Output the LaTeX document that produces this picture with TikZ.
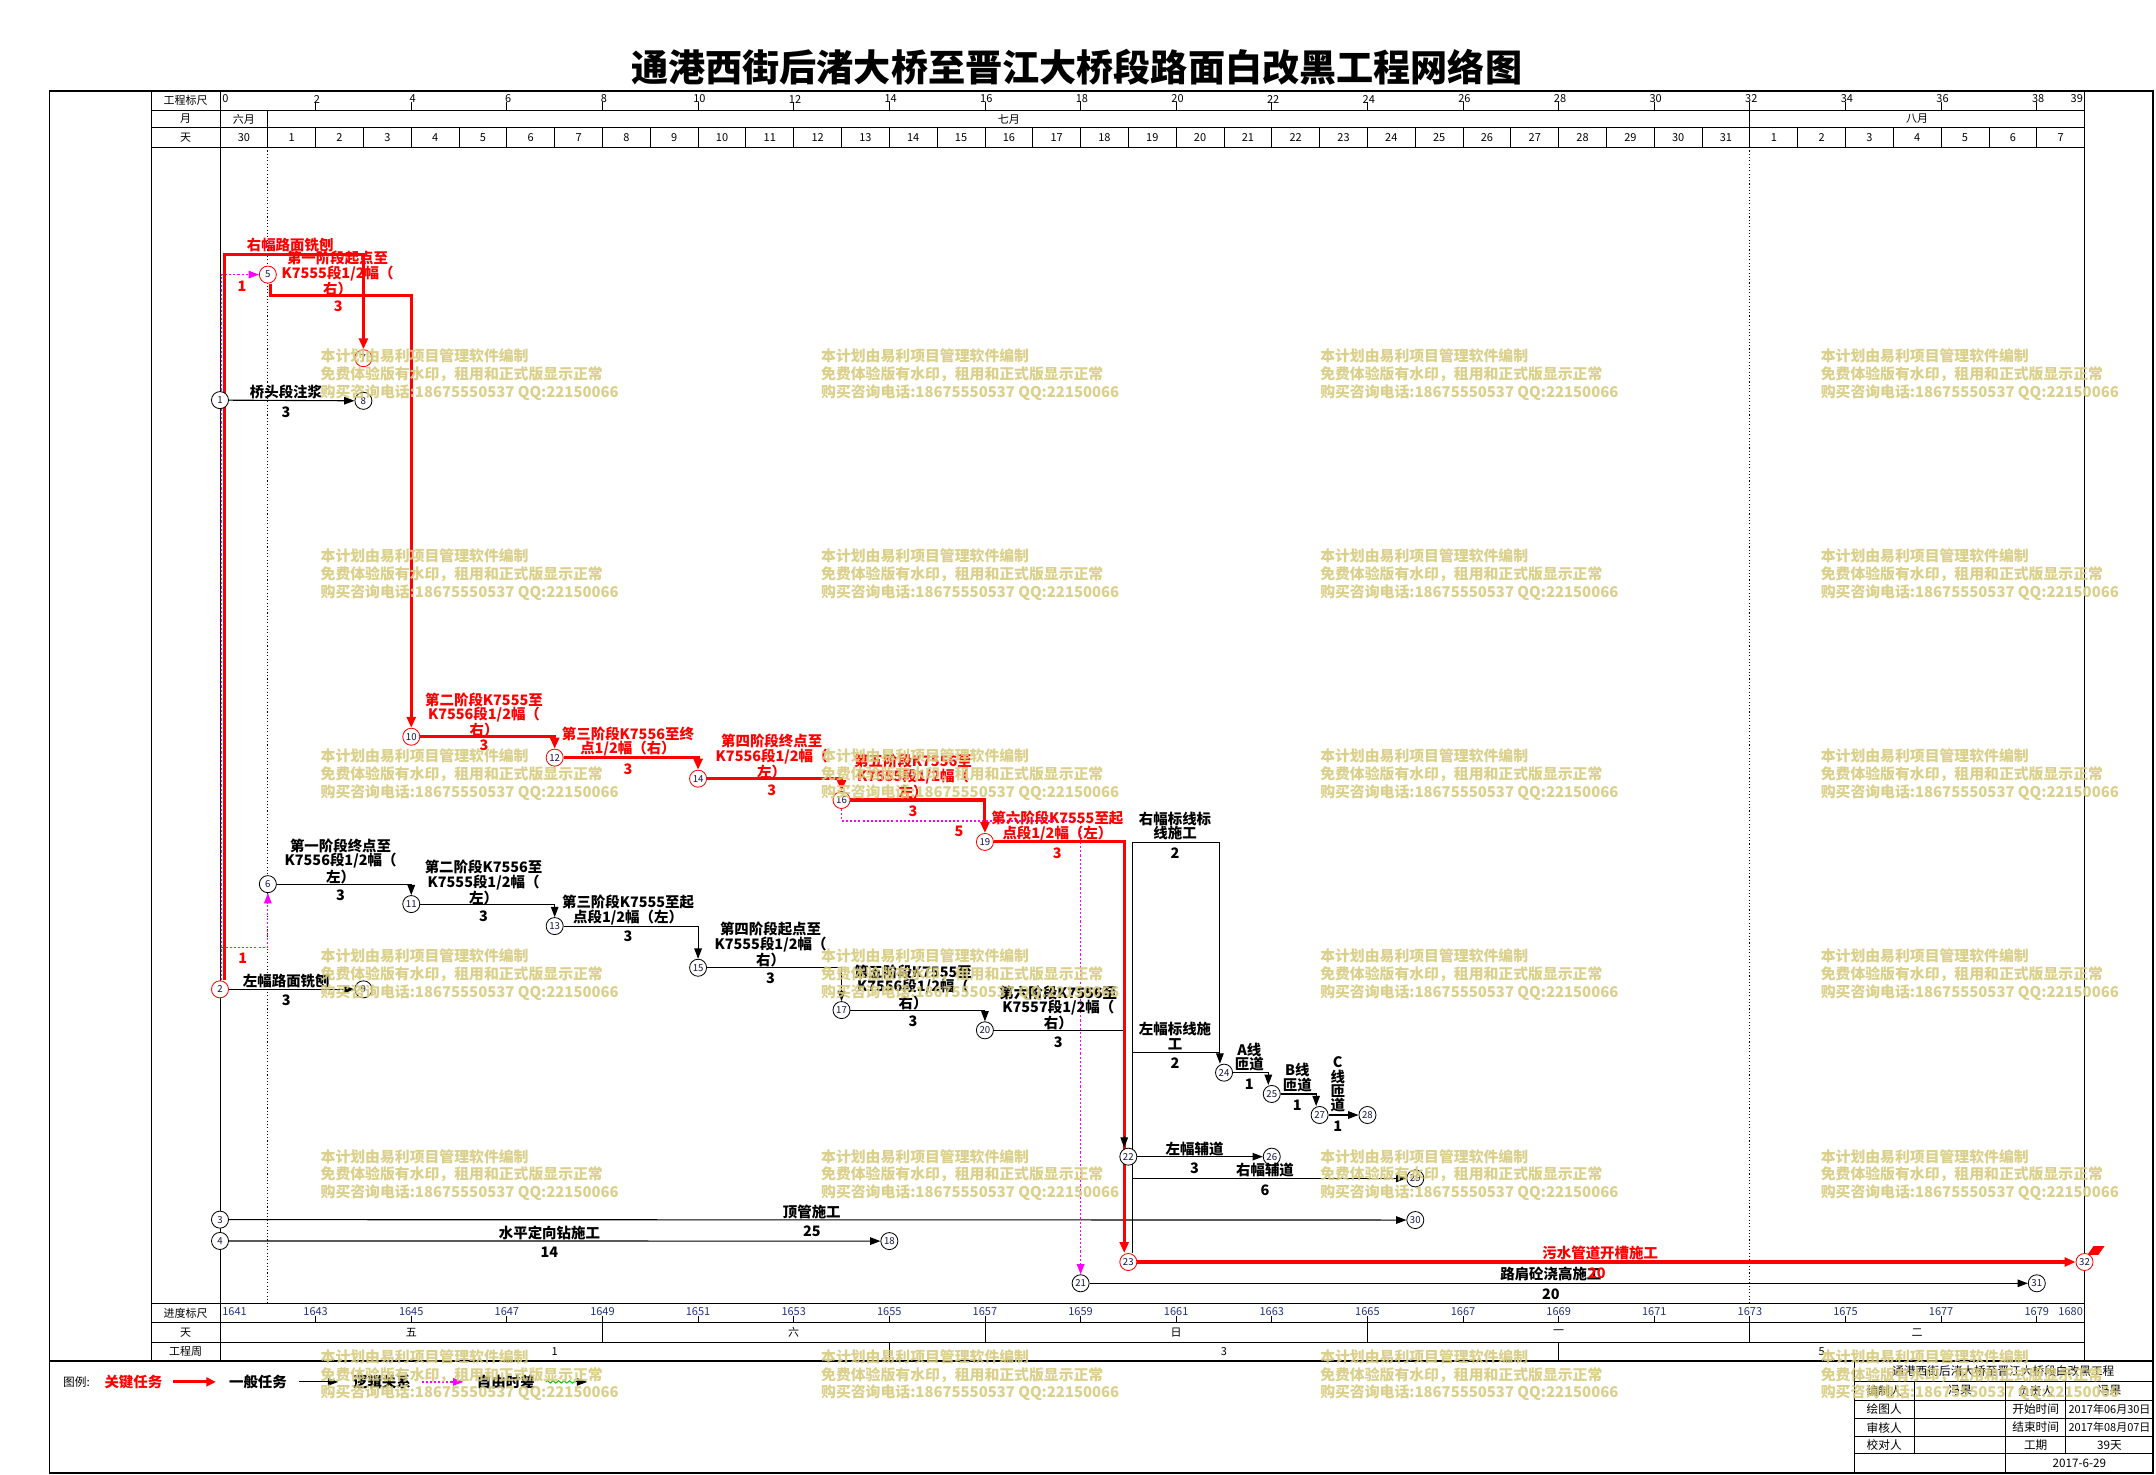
\documentclass[tikz,border=0pt]{standalone}
\usepackage{fontspec}
\setmainfont{Noto Sans CJK SC}
\usetikzlibrary{arrows.meta,calc,decorations.pathmorphing}
\pgfdeclarelayer{bg}
\pgfdeclarelayer{mid}
\pgfdeclarelayer{top}
\pgfsetlayers{bg,mid,main,top}
\definecolor{critc}{RGB}{255,0,0}
\definecolor{wmc}{RGB}{214,203,126}
\definecolor{logc}{RGB}{255,0,255}
\definecolor{scc}{RGB}{35,50,120}
\definecolor{numc}{RGB}{20,20,70}
\definecolor{wavyc}{RGB}{0,200,0}
\begin{document}
\begin{tikzpicture}[x=1pt,y=-1pt,
 tnode/.style={circle,draw=black,fill=white,line width=0.6pt,minimum size=12.4pt,inner sep=0pt,text=numc,font=\fontsize{7}{7}\selectfont},
 cnode/.style={tnode,draw=critc},
 critl/.style={draw=critc,line width=2.2pt},
 norml/.style={draw=black,line width=0.8pt},
 logl/.style={draw=logc,line width=0.9pt,dash pattern=on 1.5pt off 1.5pt},
 carr/.style={-{Triangle[length=8pt,width=6.5pt]}},
 narr/.style={-{Triangle[length=7.5pt,width=5.5pt]}},
 larr/.style={-{Triangle[length=7.5pt,width=5.5pt]}},
 lbl/.style={font=\fontsize{10.5}{10.4}\selectfont\bfseries,align=center,inner sep=0pt},
 clbl/.style={lbl,text=critc},
 hdr/.style={font=\fontsize{8}{8}\selectfont,inner sep=0pt},
 scl/.style={hdr,text=scc},
 wm/.style={font=\fontsize{10.8}{10.8}\selectfont\bfseries,text=wmc,inner sep=0pt,anchor=west,text opacity=0.9},
 tb/.style={font=\fontsize{8.5}{8.5}\selectfont,inner sep=0pt},
 tbs/.style={font=\fontsize{8}{8}\selectfont,inner sep=0pt},
 gridl/.style={line width=0.6pt},
 dotl/.style={line width=0.6pt,dash pattern=on 0.8pt off 1.6pt},
]
\useasboundingbox (0,0) rectangle (1568,1072);
\node[font=\fontsize{27}{27}\selectfont\bfseries,inner sep=0pt] (title) at (783,48.5) {通港西街后渚大桥至晋江大桥段路面白改黑工程网络图};

\begin{pgfonlayer}{bg}
\draw[line width=1.4pt] (36,66) rectangle (1566,1071);
\draw[line width=1.6pt] (36,990) -- (1566,990);
\foreach \yy in {80,93,107,948,962,976} \draw[gridl] (110,\yy) -- (1516,\yy);
\foreach \xx in {110,160,1516} \draw[gridl] (\xx,66) -- (\xx,990);
\draw[gridl] (194.77,80) -- (194.77,93);
\draw[gridl] (1272.64,80) -- (1272.64,93);
\foreach \i in {1,...,38} \draw[gridl] ({160+34.77*\i},93) -- ({160+34.77*\i},107);
\foreach \ti in {2,4,...,38} {
  \draw[gridl] ({160+34.77*\ti},74) -- ({160+34.77*\ti},80);
  \draw[gridl] ({160+34.77*\ti},957) -- ({160+34.77*\ti},962);
}
\foreach \ti in {8,16,24,32} \draw[gridl] ({160+34.77*\ti},962) -- ({160+34.77*\ti},976);
\foreach \ti in {14,28} \draw[gridl] ({160+34.77*\ti},976) -- ({160+34.77*\ti},990);
\foreach \ti in {1,32} \draw[dotl] ({160+34.77*\ti},107) -- ({160+34.77*\ti},948);
% title block
\draw[gridl] (1348.4,990) -- (1348.4,1071);
\foreach \yy in {1004.5,1018.3,1031.7,1044.7,1057.3} \draw[gridl] (1348.4,\yy) -- (1566,\yy);
\draw[gridl] (1392.2,1004.5) -- (1392.2,1057.3);
\draw[gridl] (1458.7,1004.5) -- (1458.7,1071);
\draw[gridl] (1502.4,1004.5) -- (1502.4,1057.3);
\end{pgfonlayer}

% header texts
\node[hdr] at (135,73) {工程标尺};
\node[hdr] at (135,86.5) {月};
\node[hdr] at (135,100) {天};
\node[hdr] at (177.4,86.5) {六月};
\node[hdr] at (733.7,86.5) {七月};
\node[hdr] at (1394.3,86.5) {八月};
\node[hdr,anchor=west] at (161.5,72) {0};
\foreach \ti in {2,4,...,38} \node[hdr] at ({160+34.77*\ti+1},72) {\ti};
\node[hdr,anchor=east] at (1515,72) {39};
\foreach \i in {0,...,38} {
  \pgfmathtruncatemacro{\di}{\i==0 ? 30 : (\i<=31 ? \i : \i-31)}
  \node[hdr] at ({160+34.77*(\i+0.5)},100) {\di};
}
% bottom rows
\node[hdr] at (135,955) {进度标尺};
\node[hdr] at (135,969) {天};
\node[hdr] at (135,983) {工程周};
\node[scl,anchor=west] at (161.5,954) {1641};
\foreach \ti in {2,4,...,38} {\pgfmathtruncatemacro{\vv}{1641+\ti}\node[scl] at ({160+34.77*\ti},954) {\vv};}
\node[scl,anchor=east] at (1515,954) {1680};
\node[hdr] at (299.1,969) {五};
\node[hdr] at (577.2,969) {六};
\node[hdr] at (855.4,969) {日};
\node[hdr] at (1133.5,969) {一};
\node[hdr] at (1394.3,969) {二};
\node[hdr] at (403.4,983) {1};
\node[hdr] at (890.2,983) {3};
\node[hdr] at (1324.8,983) {5};

% nodes
\node[tnode] (n1) at (160,291) {1};
\node[cnode] (n2) at (160,719.5) {2};
\node[tnode] (n3) at (160,887) {3};
\node[tnode] (n4) at (160,902.5) {4};
\node[cnode] (n5) at (194.8,199.7) {5};
\node[tnode] (n6) at (194.8,643) {6};
\node[cnode] (n7) at (264.3,260.5) {7};
\node[tnode] (n8) at (264.3,291.5) {8};
\node[tnode] (n9) at (264.3,719.5) {9};
\node[cnode] (n10) at (299.1,535.8) {10};
\node[tnode] (n11) at (299.1,657.5) {11};
\node[cnode] (n12) at (403.4,551) {12};
\node[tnode] (n13) at (403.4,673.5) {13};
\node[cnode] (n14) at (507.7,566.3) {14};
\node[tnode] (n15) at (507.7,703.8) {15};
\node[cnode] (n16) at (612,581.8) {16};
\node[tnode] (n17) at (612,734.6) {17};
\node[tnode] (n18) at (646.8,902.6) {18};
\node[cnode] (n19) at (716.3,612.3) {19};
\node[tnode] (n20) at (716.3,749.3) {20};
\node[tnode] (n21) at (785.9,933.3) {21};
\node[tnode] (n22) at (820.6,841.2) {22};
\node[cnode] (n23) at (820.6,917.8) {23};
\node[tnode] (n24) at (890.2,780.1) {24};
\node[tnode] (n25) at (924.9,795.6) {25};
\node[tnode] (n26) at (924.9,841.2) {26};
\node[tnode] (n27) at (959.7,810.9) {27};
\node[tnode] (n28) at (994.5,810.9) {28};
\node[tnode] (n29) at (1029.3,857) {29};
\node[tnode] (n30) at (1029.3,887.3) {30};
\node[tnode] (n31) at (1481.3,933.3) {31};
\node[cnode] (n32) at (1516,917.8) {32};

% helper coordinates
\coordinate (k27) at (264.3,185);
\coordinate (k510) at (299.1,214.6);
\coordinate (k1923) at (817.6,612.3);
\coordinate (k2022) at (817.6,749.3);
\coordinate (k22a) at (817.6,826);
\coordinate (kv) at (823.6,612.6);
\coordinate (kh) at (887.2,612.6);
\coordinate (kv2) at (823.6,765.4);
\coordinate (kh2) at (887.2,765.4);
\coordinate (k29) at (823.6,857);
\coordinate (kl26) at (161,689);
\coordinate (kl1621) at (785.9,597);

\begin{pgfonlayer}{mid}
% normal tasks
\draw[norml,narr] (n1) -- (n8);
\draw[norml,narr] (n2) -- (n9);
\draw[norml,narr] (n6) -| (n11);
\draw[norml,narr] (n11) -| (n13);
\draw[norml,narr] (n13) -| (n15);
\draw[norml,narr] (n15) -| (n17);
\draw[norml,narr] (n17) -| (n20);
\draw[norml] (n20) -- (k2022) -- (k22a);
\draw[norml,narr] (n3) -- (n30);
\draw[norml,narr] (n4) -- (n18);
\draw[norml,narr] (n21) -- (n31);
\draw[norml,narr] ([xshift=3pt]n23.north) -- (kv) -- (kh) -- ([xshift=-3pt]n24.north);
\draw[norml] (kv2) -- (kh2);
\draw[norml,narr] (n22) -- (n26);
\draw[norml,narr] (k29) -- (n29);
\draw[norml,narr] (n24) -| ([xshift=-2.5pt]n25.north);
\draw[norml,narr] (n25) -| ([xshift=-2.5pt]n27.north);
\draw[norml,narr] (n27) -- (n28);
% logic links
\draw[logl,larr] ([xshift=1pt]n2.north) |- (n5);
\draw[logl,larr] (kl26) -| (n6);
\draw[logl,larr] (n16) |- (kl1621) -- (n21);
% critical path
\draw[critl,carr] ([xshift=3pt]n2.north) |- (k27) -- (n7);
\draw[critl,carr] ([xshift=2pt]n5.south) |- (k510) -- (n10);
\draw[critl,carr] (n10) -| (n12);
\draw[critl,carr] (n12) -| (n14);
\draw[critl,carr] (n14) -| (n16);
\draw[critl,carr] (n16) -| (n19);
\draw[critl,carr] (n19) -- (k1923) -- ([xshift=-3pt]n23.north);
\draw[critl,carr] (n23) -- (n32);
\draw[norml,narr] (k22a) -- ([xshift=-3pt]n22.north);
\fill[critc] (1518,912.7) -- (1526,912.7) -- (1530.6,906.2) -- (1522.6,906.2) -- cycle;
\end{pgfonlayer}

% critical labels
\node[clbl] at (211,178) {右幅路面铣刨};
\node[clbl] at (245.5,199) {第一阶段起点至\\K7555段1/2幅（\\右）};
\node[clbl] at (246,223) {3};
\node[clbl] at (352,520) {第二阶段K7555至\\K7556段1/2幅（\\右）};
\node[clbl] at (352,542) {3};
\node[clbl] at (456.7,539.2) {第三阶段K7556至终\\点1/2幅（右）};
\node[clbl] at (456.7,559.5) {3};
\node[clbl] at (561.2,550.3) {第四阶段终点至\\K7556段1/2幅（\\左）};
\node[clbl] at (561.2,574.6) {3};
\node[clbl] at (664,564.8) {第五阶段K7556至\\K7555段1/2幅（\\左）};
\node[clbl] at (664,590) {3};
\node[clbl] at (769,600.8) {第六阶段K7555至起\\点段1/2幅（左）};
\node[clbl] at (769,620.6) {3};
\node[clbl] at (1163.8,911.5) {污水管道开槽施工};
\node[clbl] at (176,208) {1};
\node[clbl] at (176.5,697) {1};
\node[clbl] at (697.5,604.8) {5};
% normal labels
\node[lbl] at (208,285) {桥头段注浆};
\node[lbl] at (208,300) {3};
\node[lbl] at (208.2,713.2) {左幅路面铣刨};
\node[lbl] at (208.2,727.3) {3};
\node[lbl] at (247.7,626.5) {第一阶段终点至\\K7556段1/2幅（\\左）};
\node[lbl] at (247.7,651) {3};
\node[lbl] at (351.7,642) {第二阶段K7556至\\K7555段1/2幅（\\左）};
\node[lbl] at (351.7,666.2) {3};
\node[lbl] at (456.8,661.8) {第三阶段K7555至起\\点段1/2幅（左）};
\node[lbl] at (456.8,681.2) {3};
\node[lbl] at (560.4,687) {第四阶段起点至\\K7555段1/2幅（\\右）};
\node[lbl] at (560.4,711.5) {3};
\node[lbl] at (664,718) {第五阶段K7555至\\K7556段1/2幅（\\右）};
\node[lbl] at (664,743) {3};
\node[lbl] at (769.7,733) {第六阶段K7556至\\K7557段1/2幅（\\右）};
\node[lbl] at (769.7,758) {3};
\node[lbl] at (854.6,600.8) {右幅标线标\\线施工};
\node[lbl] at (854.6,620.6) {2};
\node[lbl] at (854.6,753.5) {左幅标线施\\工};
\node[lbl] at (854.6,773.3) {2};
\node[lbl] at (908.6,768.7) {A线\\匝道};
\node[lbl] at (908.6,788.4) {1};
\node[lbl] at (943.5,783.7) {B线\\匝道};
\node[lbl] at (943.5,803.6) {1};
\node[lbl] at (972.9,788.7) {C\\线\\匝\\道};
\node[lbl] at (972.9,818.9) {1};
\node[lbl] at (868.8,835.9) {左幅辅道};
\node[lbl] at (868.8,849.7) {3};
\node[lbl] at (920,850.9) {右幅辅道};
\node[lbl] at (920,865.5) {6};
\node[lbl] at (590.4,881.2) {顶管施工};
\node[lbl] at (590.4,895.8) {25};
\node[lbl] at (399.6,896.5) {水平定向钻施工};
\node[lbl] at (399.6,910.8) {14};
\node[lbl] at (1127.9,926.6) {路肩砼浇高施工};
\node[lbl] at (1127.9,941.1) {20};
\node[clbl] at (1161.3,926) {20};

% legend
\node[font=\fontsize{8.5}{8.5}\selectfont,inner sep=0pt] (lg0) at (55.6,1005) {图例:};
\node[clbl] (lg1) at (97,1005) {关键任务};
\draw[critl,-{Triangle[length=7pt,width=6.5pt]}] (126,1005) -- (157,1005);
\node[lbl] (lg2) at (187.6,1005) {一般任务};
\draw[norml,narr] (217.5,1005) -- (246,1005);
\node[lbl] (lg3) at (277.8,1005) {逻辑关系};
\draw[logl,larr] (306.6,1005) -- (337,1005);
\node[lbl] (lg4) at (367.9,1005) {自由时差};
\draw[draw=wavyc,line width=0.7pt,decorate,decoration={snake,amplitude=0.9pt,segment length=4pt}] (397,1005) -- (419,1005);
\draw[norml,narr] (419,1005) -- (427,1005);

% title block texts
\node[tb] at (1457,997.2) {通港西街后渚大桥至晋江大桥段白改黑工程};
\node[tb] at (1370.3,1011.4) {编制人};
\node[tb] at (1425.5,1011.4) {冯果};
\node[tb] at (1480.5,1011.4) {负责人};
\node[tb] at (1534.2,1011.4) {冯果};
\node[tb] at (1370.3,1025) {绘图人};
\node[tb] at (1480.5,1025) {开始时间};
\node[tbs] at (1534.2,1025) {2017年06月30日};
\node[tb] at (1370.3,1038.2) {审核人};
\node[tb] at (1480.5,1038.2) {结束时间};
\node[tbs] at (1534.2,1038.2) {2017年08月07日};
\node[tb] at (1370.3,1051) {校对人};
\node[tb] at (1480.5,1051) {工期};
\node[tb] at (1534.2,1051) {39天};
\node[tb] at (1512.3,1064.2) {2017-6-29};

% watermarks
\begin{pgfonlayer}{top}
\foreach \wx in {233,597,960,1324} {
  \foreach \wy in {259,404.5,550,695.5,841,986.5} {
    \node[wm] at (\wx,\wy) {本计划由易利项目管理软件编制};
    \node[wm] at (\wx,\wy+13.3) {免费体验版有水印，租用和正式版显示正常};
    \node[wm] at (\wx,\wy+26.6) {购买咨询电话:18675550537 QQ:22150066};
  }
}
\end{pgfonlayer}
\end{tikzpicture}
\end{document}
